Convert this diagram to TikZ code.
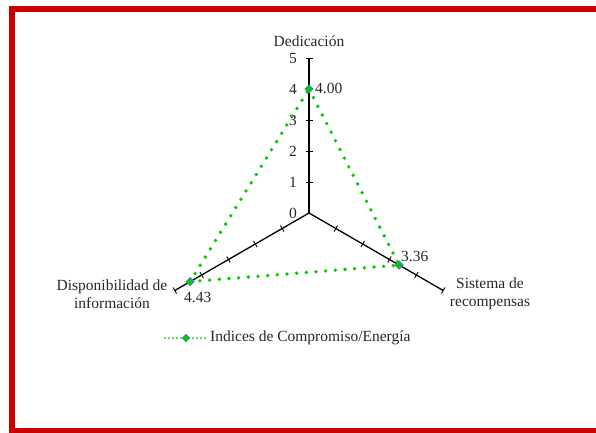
\documentclass[tikz,border=0pt]{standalone}
\usepackage{fontspec}
\setmainfont{Liberation Serif}
\usetikzlibrary{calc,shapes.geometric}
\definecolor{framered}{RGB}{204,0,0}
\definecolor{seriesgreen}{RGB}{0,204,0}
\definecolor{markeredge}{RGB}{79,129,189}
\tikzset{
  axisline/.style={black, line width=1.3pt},
  tickline/.style={black, line width=0.9pt},
  seriesline/.style={seriesgreen, line width=3.8pt, line cap=round, dash pattern=on 0pt off 9.7pt},
  legendline/.style={seriesgreen, line width=2pt, line cap=round, dash pattern=on 0pt off 4pt},
  datamark/.style={diamond, fill=seriesgreen, draw=markeredge, line width=0.8pt, inner sep=0pt, minimum size=8.5pt},
  lbl/.style={inner sep=0pt, text=black!85},
}
\begin{document}
\begin{tikzpicture}[x=1pt, y=-1pt, font=\fontsize{15.5}{18}\selectfont]
  \useasboundingbox (0,0) rectangle (596,432);
  % outer frame
  \draw[framered, line width=6pt] (12,9) rectangle (600,431);

  % axes of the radar chart
  \coordinate (O) at (309,213);
  \coordinate (T) at (309,58);
  \coordinate (R) at (443.2,290.5);
  \coordinate (L) at (174.8,290.5);
  \draw[axisline] (O) -- (T);
  \draw[axisline] (O) -- (R);
  \draw[axisline] (O) -- (L);

  % tick marks, one per unit
  \foreach \k in {1,...,5} {
    \pgfmathsetmacro{\f}{\k/5}
    \draw[tickline] ($(O)!\f!(T)+(-3.5,0)$) -- ($(O)!\f!(T)+(3.5,0)$);
    \draw[tickline] ($(O)!\f!(R)+(-1.75,3.03)$) -- ($(O)!\f!(R)+(1.75,-3.03)$);
    \draw[tickline] ($(O)!\f!(L)+(1.75,3.03)$) -- ($(O)!\f!(L)+(-1.75,-3.03)$);
  }

  % scale labels
  \foreach \k in {0,...,5} {
    \pgfmathsetmacro{\f}{\k/5}
    \node[lbl, anchor=east] (s\k) at ($(O)!\f!(T)+(-12,0)$) {\k};
  }

  % category labels
  \node[lbl] (cat1) at (309,41) {Dedicación};
  \node[lbl, align=center] (cat2) at (490,294) {Sistema de\\recompensas};
  \node[lbl, align=center] (cat3) at (112,294) {Disponibilidad de\\información};

  % data values
  \coordinate (D) at ($(O)!0.8!(T)$);
  \coordinate (S) at ($(O)!0.672!(R)$);
  \coordinate (P) at ($(O)!0.886!(L)$);
  \draw[seriesline] (D) -- (S) -- (P) -- cycle;
  \node[datamark] (mD) at (D) {};
  \node[datamark] (mS) at (S) {};
  \node[datamark] (mP) at (P) {};
  \node[lbl, anchor=west] (vD) at (315,88) {4.00};
  \node[lbl, anchor=west] (vS) at (401,256) {3.36};
  \node[lbl, anchor=west] (vP) at (184,297) {4.43};

  % legend
  \coordinate (legA) at (165,338);
  \coordinate (legB) at (207,338);
  \draw[legendline] (legA) -- (legB);
  \node[datamark, minimum size=7.5pt] (legM) at (186,338) {};
  \node[lbl, anchor=west] (legT) at (210,338) {Indices de Compromiso/Energía};
\end{tikzpicture}
\end{document}
